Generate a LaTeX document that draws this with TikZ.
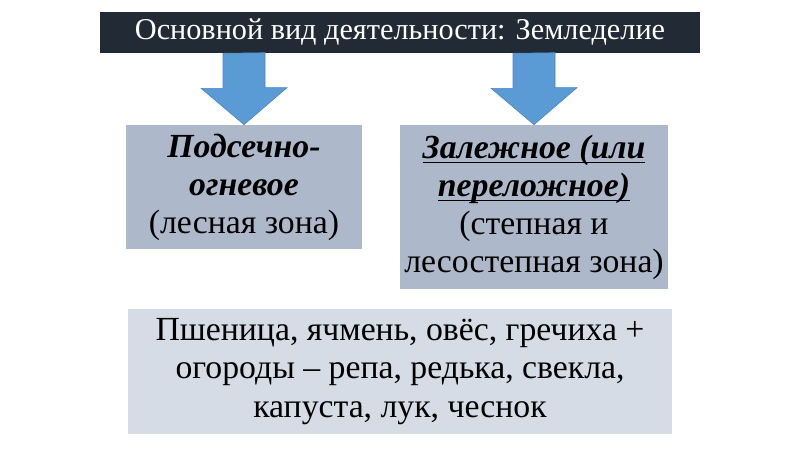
\documentclass[tikz,border=0pt]{standalone}
\usepackage{fontspec}
\setmainfont{Liberation Serif}
\usetikzlibrary{positioning}
\definecolor{barcol}{HTML}{222A35}
\definecolor{arrowcol}{HTML}{5B9BD5}
\definecolor{arrowedge}{HTML}{4A86C0}
\definecolor{boxcol}{HTML}{ADB9CA}
\definecolor{cropcol}{HTML}{D6DCE5}
% underline at a fixed depth, as on the slide
\newcommand{\zline}[1]{\setbox0\hbox{#1}\rlap{\rule[-3.6pt]{\wd0}{1.1pt}}\box0}

\begin{document}
\begin{tikzpicture}[x=0.025cm,y=-0.025cm]
	\tikzstyle{titlebar} = [fill=barcol,text=white,minimum width=15cm,minimum height=1.025cm,inner sep=0,font=\fontsize{21.5}{25}\selectfont];
	\tikzstyle{kind} = [fill=boxcol,align=center,inner sep=0,font=\fontsize{24}{27}\selectfont];
	\tikzstyle{crops} = [fill=cropcol,align=center,inner sep=0,minimum width=13.6cm,minimum height=3.125cm,font=\fontsize{24}{27.4}\selectfont];
	\tikzstyle{bluearrow} = [fill=arrowcol,draw=arrowedge,line width=0.4pt];
	\useasboundingbox (0,0) rectangle (800,449);
	\node at (400,32.5) (bar) [titlebar] {Основной вид деятельности: Земледелие};
	\node at (244,187) (box1) [kind,minimum width=5.9cm,minimum height=3.1cm] {\textbf{\textit{Подсечно-}}\\\textbf{\textit{огневое}}\\(лесная зона)};
	\node at (534,207) (box2) [kind,minimum width=6.7cm,minimum height=4.1cm] {\zline{\textbf{\textit{Залежное (или}}}\\\zline{\textbf{\textit{переложное)}}}\\(степная и\\лесостепная зона)};
	\node at (400,371.5) (crops) [crops] {Пшеница, ячмень, овёс, гречиха +\\огороды -- репа, редька, свекла,\\капуста, лук, чеснок};
	\draw[bluearrow] (bar.south -| box1.north) ++(-21,0) -- ++(0,35) -- ++(-22,0) -- (box1.north) -- ++(43,-37) -- ++(-22,0) -- ++(0,-35) -- cycle;
	\draw[bluearrow] (bar.south -| box2.north) ++(-21,0) -- ++(0,35) -- ++(-22,0) -- (box2.north) -- ++(43,-37) -- ++(-22,0) -- ++(0,-35) -- cycle;
\end{tikzpicture}
\end{document}
